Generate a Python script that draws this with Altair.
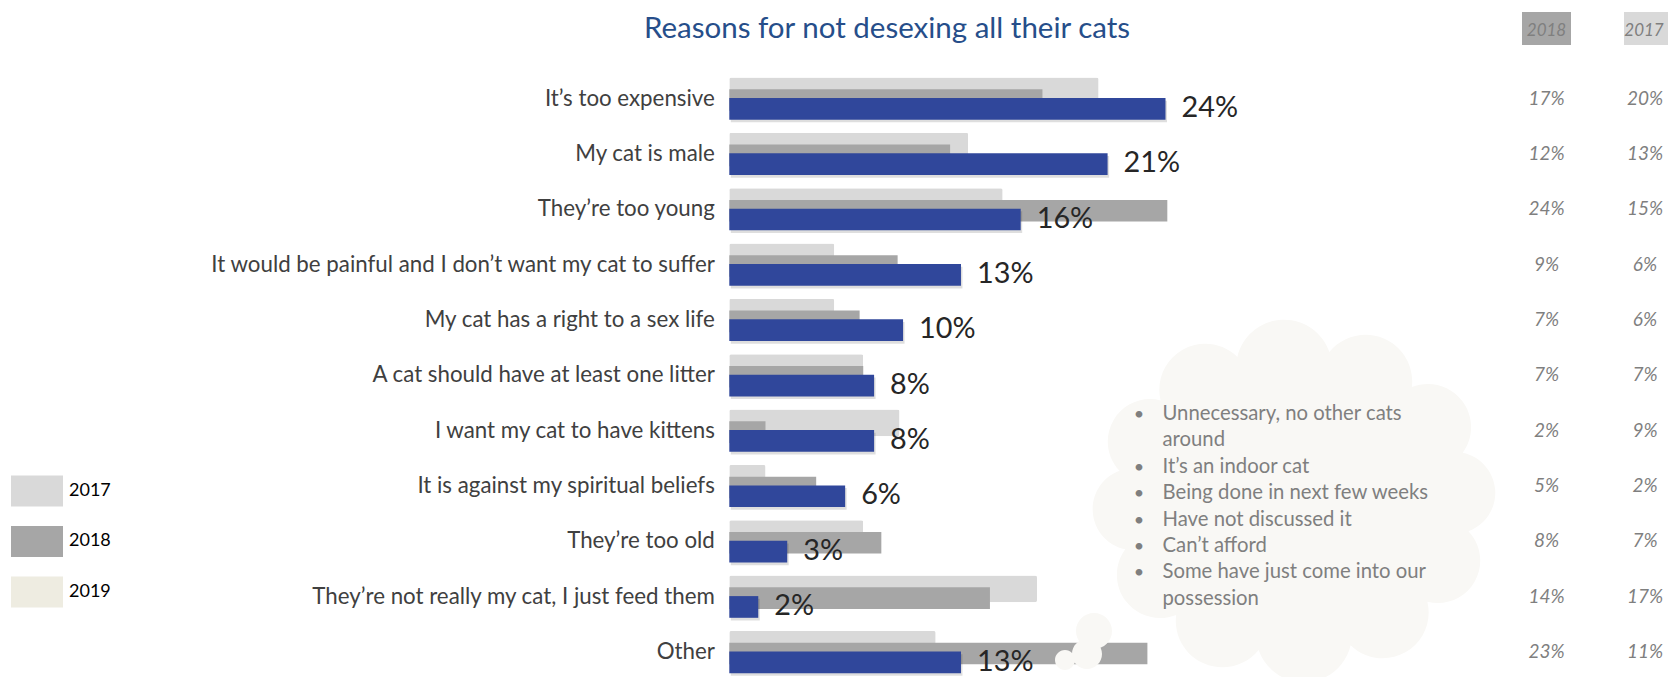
import math
import textwrap
import altair as alt
import pandas as pd

# ---------------- data ----------------
title_text = "Reasons for not desexing all their cats"
categories = [
    "It’s too expensive",
    "My cat is male",
    "They’re too young",
    "It would be painful and I don’t want my cat to suffer",
    "My cat has a right to a sex life",
    "A cat should have at least one litter",
    "I want my cat to have kittens",
    "It is against my spiritual beliefs",
    "They’re too old",
    "They’re not really my cat, I just feed them",
    "Other",
]
pct_2019 = [24.1, 20.9, 16.1, 12.8, 9.6, 8.0, 8.0, 6.4, 3.2, 1.6, 12.8]
pct_2018 = [17.3, 12.2, 24.2, 9.3, 7.2, 7.4, 2.0, 4.8, 8.4, 14.4, 23.1]
pct_2017 = [20.4, 13.2, 15.1, 5.8, 5.8, 7.4, 9.4, 2.0, 7.4, 17.0, 11.4]
years = ["2017", "2018", "2019"]
other_reasons = [
    "Unnecessary, no other cats around",
    "It’s an indoor cat",
    "Being done in next few weeks",
    "Have not discussed it",
    "Can’t afford",
    "Some have just come into our possession",
]

# ---------------- styles ----------------
FONT = "Lato"
C17, C18, C19_LEG, BLUE = "#D9D9D9", "#A6A6A6", "#EEECE1", "#30479B"
GREY_TXT = "#7F7F7F"
CLOUD = "#F9F8F5"

BAND = 55.35
PAD_L, PAD_T = 721.3, 62.825
XMAX = 51.8
W = XMAX * 18.1
H = BAND * len(categories)
SVG_W, SVG_H = 1660, 669
PAD_R = SVG_W - PAD_L - W
PAD_B = SVG_H - PAD_T - H

rows = []
for i, c in enumerate(categories):
    for yr, vals in zip(years, [pct_2017, pct_2018, pct_2019]):
        rows.append({"reason": c, "year": yr, "pct": vals[i]})
df = pd.DataFrame(rows)

y_enc = alt.Y(
    "reason:N",
    sort=categories,
    scale=alt.Scale(paddingInner=0, paddingOuter=0),
    axis=alt.Axis(
        title=None, domain=False, ticks=False, grid=False,
        labelFont=FONT, labelFontSize=22.3, labelColor="#404040",
        labelPadding=15, labelLimit=800,
    ),
)
x_enc = alt.X("pct:Q", scale=alt.Scale(domain=[0, XMAX], nice=False, zero=True), axis=None)

rect_path = "M-1,-0.596H1V0.596H-1Z"
color_enc = alt.Color(
    "year:N",
    scale=alt.Scale(domain=years, range=[C17, C18, C19_LEG]),
    legend=alt.Legend(
        title=None, orient="none", legendX=-718.3, legendY=394.1,
        direction="vertical", symbolType=rect_path, symbolSize=2704,
        symbolStrokeWidth=0, symbolOpacity=1, labelFont=FONT, labelFontSize=18,
        labelColor="#000000", labelOffset=6, rowPadding=8.5, padding=0,
    ),
)

base = alt.Chart(df)
lbl = "format(datum.pct, '.0f') + '%'"

light = base.transform_filter(alt.datum.year == "2017").mark_bar(
    height=26.7, yOffset=-7.7, cornerRadius=2
).encode(x=x_enc, y=y_enc, color=color_enc)

dark = base.transform_filter(alt.datum.year == "2018").mark_bar(
    height=21.6, yOffset=1.5
).encode(x=x_enc, y=y_enc, color=color_enc)

shadow = base.transform_filter(alt.datum.year == "2019").mark_bar(
    height=21.7, yOffset=13.0, xOffset=1.5, color="#000000", opacity=0.13
).encode(x=x_enc, y=y_enc)

blue = base.transform_filter(alt.datum.year == "2019").mark_bar(
    height=21.7, yOffset=10.3, color=BLUE
).encode(x=x_enc, y=y_enc)

val_labels = base.transform_filter(alt.datum.year == "2019").transform_calculate(
    lbl=lbl
).mark_text(
    align="left", baseline="alphabetic", dx=16, dy=18.5, font=FONT, fontSize=28.8, color="#262626"
).encode(x=x_enc, y=y_enc, text="lbl:N")

col18 = base.transform_filter(alt.datum.year == "2018").transform_calculate(lbl=lbl).mark_text(
    align="center", baseline="middle", font=FONT, fontSize=19, fontStyle="italic", color=GREY_TXT
).encode(x=alt.value(817.2), y=y_enc, text="lbl:N")

col17 = base.transform_filter(alt.datum.year == "2017").transform_calculate(lbl=lbl).mark_text(
    align="center", baseline="middle", font=FONT, fontSize=19, fontStyle="italic", color=GREY_TXT
).encode(x=alt.value(915.7), y=y_enc, text="lbl:N")

one = alt.Chart(pd.DataFrame({"k": [0]}))

hdr18_box = one.mark_rect(color=C18).encode(
    x=alt.value(792.7), x2=alt.value(841.7), y=alt.value(-58.8), y2=alt.value(-25.8))
hdr17_box = one.mark_rect(color=C17).encode(
    x=alt.value(894.7), x2=alt.value(960), y=alt.value(-58.8), y2=alt.value(-25.8))
hdr18_txt = one.mark_text(text=years[1], align="center", baseline="alphabetic", font=FONT,
                          fontSize=17, fontStyle="italic", color=GREY_TXT).encode(
    x=alt.value(817.2), y=alt.value(-35.1))
hdr17_txt = one.mark_text(text=years[0], align="center", baseline="alphabetic", font=FONT,
                          fontSize=17, fontStyle="italic", color=GREY_TXT).encode(
    x=alt.value(914.7), y=alt.value(-35.1))

title = one.mark_text(text=title_text, align="center", baseline="alphabetic", font=FONT,
                      fontSize=29.5, color="#264E8A").encode(
    x=alt.value(157.7), y=alt.value(-33.3))

# cloud (decorative thought bubble) as one custom symbol path
S = 250.0
rx, ry, nlobes = 178.0, 152.0, 12
pts = [(rx * math.cos(2 * math.pi * k / nlobes + 0.2), ry * math.sin(2 * math.pi * k / nlobes + 0.2))
       for k in range(nlobes)]
d = f"M{pts[0][0]/S:.4f},{pts[0][1]/S:.4f}"
for k in range(nlobes):
    a, b = pts[k], pts[(k + 1) % nlobes]
    chord = math.hypot(b[0] - a[0], b[1] - a[1])
    r = 0.52 * chord / S
    d += f" A{r:.4f},{r:.4f} 0 0 1 {b[0]/S:.4f},{b[1]/S:.4f}"
d += " Z"
for bx, by, br in [(-200, 130, 18), (-207, 153, 15), (-229, 159, 10)]:
    d += (f" M{(bx-br)/S:.4f},{by/S:.4f} A{br/S:.4f},{br/S:.4f} 0 1 1 {(bx+br)/S:.4f},{by/S:.4f}"
          f" A{br/S:.4f},{br/S:.4f} 0 1 1 {(bx-br)/S:.4f},{by/S:.4f} Z")
cloud = one.mark_point(shape=d, size=(2 * S) ** 2, filled=True, fill=CLOUD, opacity=1,
                       strokeWidth=0).encode(x=alt.value(564.7), y=alt.value(430.2))

# bullet list inside the cloud: one bullet + wrapped text block per item
LINE_H = 26.4
Y0 = 349.2
bullet_layers = []
line_no = 0
for item in other_reasons:
    wrapped = textwrap.wrap(item, width=28)
    y_here = Y0 + line_no * LINE_H
    bullet_layers.append(one.mark_text(text="•", align="center", baseline="alphabetic", font=FONT,
                                       fontSize=18, color=GREY_TXT).encode(
        x=alt.value(409.7), y=alt.value(y_here)))
    bullet_layers.append(one.mark_text(text=wrapped, align="left", baseline="alphabetic", font=FONT,
                                       fontSize=20.3, lineHeight=LINE_H, color=GREY_TXT).encode(
        x=alt.value(433.2), y=alt.value(y_here)))
    line_no += len(wrapped)

chart = alt.layer(
    light, dark, shadow, blue, cloud, val_labels, col18, col17,
    hdr18_box, hdr17_box, hdr18_txt, hdr17_txt, title, *bullet_layers,
).properties(
    width=W, height=H,
    autosize=alt.AutoSizeParams(type="none"),
    padding={"left": PAD_L, "top": PAD_T, "right": PAD_R, "bottom": PAD_B},
).configure(background="white").configure_view(stroke=None)

chart.save("out.html", embed_options={"renderer": "svg", "actions": False})
